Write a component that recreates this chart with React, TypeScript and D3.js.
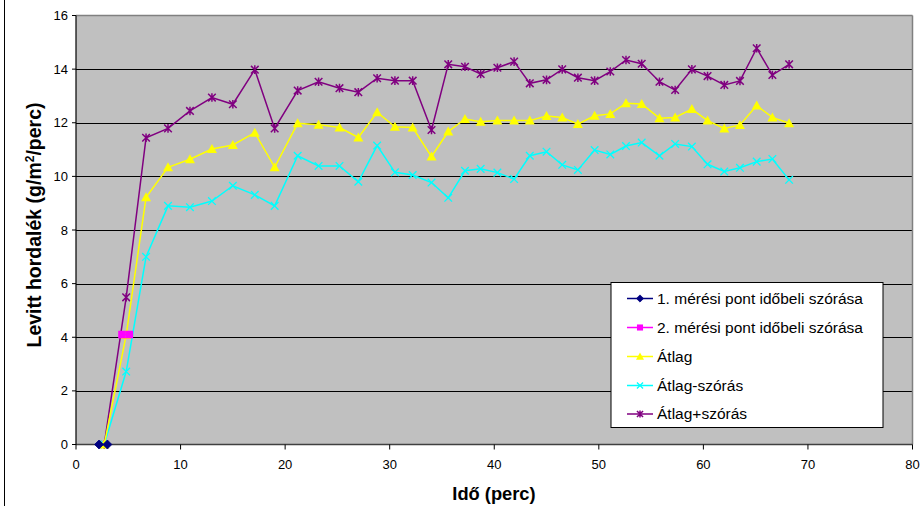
import React from "react";
import * as d3 from "d3";

const xMain = [2.7, 4.8, 6.7, 8.8, 10.9, 13.0, 15.0, 17.1, 19.0, 21.2, 23.2, 25.2, 27.0, 28.8, 30.5, 32.2, 34.0, 35.6, 37.2, 38.7, 40.3, 41.9, 43.4, 45.0, 46.5, 48.0, 49.6, 51.1, 52.6, 54.1, 55.8, 57.3, 58.9, 60.4, 62.0, 63.5, 65.1, 66.6, 68.2];
const atlag = [0, 4.08, 9.22, 10.34, 10.64, 11.02, 11.17, 11.63, 10.34, 11.98, 11.93, 11.82, 11.45, 12.39, 11.85, 11.82, 10.74, 11.67, 12.14, 12.04, 12.08, 12.08, 12.08, 12.25, 12.2, 11.95, 12.26, 12.33, 12.73, 12.7, 12.17, 12.2, 12.51, 12.08, 11.79, 11.92, 12.64, 12.2, 11.98];
const atlagMinus = [0, 2.72, 7.0, 8.9, 8.85, 9.08, 9.65, 9.31, 8.9, 10.77, 10.39, 10.39, 9.8, 11.15, 10.15, 10.05, 9.77, 9.2, 10.21, 10.28, 10.14, 9.9, 10.77, 10.92, 10.43, 10.24, 10.98, 10.82, 11.13, 11.26, 10.77, 11.21, 11.11, 10.45, 10.18, 10.32, 10.55, 10.65, 9.87];
const atlagPlus = [0, 5.49, 11.44, 11.79, 12.44, 12.94, 12.69, 13.98, 11.79, 13.2, 13.53, 13.29, 13.14, 13.66, 13.57, 13.57, 11.73, 14.18, 14.09, 13.82, 14.05, 14.28, 13.47, 13.6, 13.99, 13.68, 13.57, 13.91, 14.34, 14.2, 13.53, 13.22, 13.99, 13.74, 13.41, 13.56, 14.78, 13.78, 14.18];
const pont1X = [2.2, 3.0];
const pont1Y = [0, 0];
const pont2X = [4.4, 5.1];
const pont2Y = [4.1, 4.1];

const xTicks = [0, 10, 20, 30, 40, 50, 60, 70, 80];
const yTicks = [0, 2, 4, 6, 8, 10, 12, 14, 16];
const legendLabels = [
  "1. mérési pont időbeli szórása",
  "2. mérési pont időbeli szórása",
  "Átlag",
  "Átlag-szórás",
  "Átlag+szórás",
];

type Series = { xs: number[]; ys: number[]; color: string; marker: string; label: string };

const series: Series[] = [
  { xs: xMain, ys: atlagPlus, color: "#800080", marker: "star", label: legendLabels[4] },
  { xs: xMain, ys: atlagMinus, color: "#00FFFF", marker: "x", label: legendLabels[3] },
  { xs: xMain, ys: atlag, color: "#FFFF00", marker: "triangle", label: legendLabels[2] },
  { xs: pont2X, ys: pont2Y, color: "#FF00FF", marker: "square", label: legendLabels[1] },
  { xs: pont1X, ys: pont1Y, color: "#000080", marker: "diamond", label: legendLabels[0] },
];

const legendOrder = [4, 3, 2, 1, 0];

function Marker({ type, x, y, color, small }: { type: string; x: number; y: number; color: string; small?: boolean }) {
  const k = small ? 0.8 : 1;
  const s = 3.8 * k;
  if (type === "diamond") {
    const r = 4.5 * k;
    return <path d={`M${x},${y - r}L${x + r},${y}L${x},${y + r}L${x - r},${y}Z`} fill={color} stroke={color} strokeWidth={0.8} strokeLinejoin="round" />;
  }
  if (type === "square") {
    return <rect x={x - s} y={y - s} width={2 * s} height={2 * s} fill={color} />;
  }
  if (type === "triangle") {
    const r = 5 * k;
    return <path d={`M${x},${y - r}L${x + r},${y + r * 0.8}L${x - r},${y + r * 0.8}Z`} fill={color} />;
  }
  if (type === "x") {
    return (
      <path d={`M${x - s},${y - s}L${x + s},${y + s}M${x - s},${y + s}L${x + s},${y - s}`} stroke={color} strokeWidth={1.3} />
    );
  }
  return (
    <path
      d={`M${x - s},${y - s}L${x + s},${y + s}M${x - s},${y + s}L${x + s},${y - s}M${x},${y - s - 0.5}L${x},${y + s + 0.5}`}
      stroke={color}
      strokeWidth={1.5}
    />
  );
}

export default function App() {
  const W = 922;
  const H = 506;
  const left = 76;
  const right = 912.5;
  const top = 15.5;
  const bottom = 444.5;
  const x = d3.scaleLinear().domain([0, 80]).range([left, right]);
  const y = d3.scaleLinear().domain([0, 16]).range([bottom, top]);
  const font = "Arial, 'Liberation Sans', sans-serif";

  const line = (xs: number[], ys: number[]) =>
    d3.line<number>().x((_, i) => x(xs[i])).y((d) => y(d))(ys) || "";

  const legX = 611;
  const legY = 282.5;
  const legW = 272;
  const legH = 145;
  const rowY = [298.5, 327.5, 356.5, 385.5, 414];

  return (
    <svg width={W} height={H} style={{ position: "absolute", left: 0, top: 0, background: "#fff" }}>
      <rect x={0} y={0} width={W} height={H} fill="#fff" />
      <line x1={4.5} y1={0} x2={4.5} y2={H} stroke="#000" strokeWidth={1} />
      <rect x={left} y={top} width={right - left} height={bottom - top} fill="#C0C0C0" />
      {yTicks.slice(1, -1).map((t) => (
        <line key={t} x1={left} x2={right} y1={Math.round(y(t)) + 0.5} y2={Math.round(y(t)) + 0.5} stroke="#000" strokeWidth={1} />
      ))}
      <line x1={left} x2={right} y1={top} y2={top} stroke="#808080" strokeWidth={1.5} />
      <line x1={right} x2={right} y1={top} y2={bottom} stroke="#808080" strokeWidth={1.5} />
      <line x1={left} x2={right} y1={bottom} y2={bottom} stroke="#404040" strokeWidth={1.5} />
      <line x1={left} x2={left} y1={top} y2={bottom} stroke="#000" strokeWidth={1.2} />
      {yTicks.map((t) => (
        <g key={t}>
          <line x1={left - 4} x2={left} y1={y(t)} y2={y(t)} stroke="#000" />
          <text x={68} y={y(t)} dy="0.35em" textAnchor="end" fontSize={13} fontFamily={font} fill="#000">
            {t}
          </text>
        </g>
      ))}
      {xTicks.map((t) => (
        <g key={t}>
          <line x1={x(t)} x2={x(t)} y1={bottom} y2={bottom + 5} stroke="#000" />
          <text x={x(t)} y={464} dy="0.35em" textAnchor="middle" fontSize={13} fontFamily={font} fill="#000">
            {t}
          </text>
        </g>
      ))}
      <text x={494} y={494} dy="0.35em" textAnchor="middle" fontSize={18.3} fontWeight="bold" fontFamily={font} fill="#000">
        Idő (perc)
      </text>
      <text
        transform={`translate(34,225) rotate(-90)`}
        textAnchor="middle"
        dy="0.35em"
        fontSize={19.5}
        fontWeight="bold"
        fontFamily={font}
        fill="#000"
      >
        Levitt hordalék (g/m
        <tspan dy="-7" fontSize={12}>2</tspan>
        <tspan dy="7">/perc)</tspan>
      </text>
      {series.map((s, si) => (
        <g key={si}>
          <path d={line(s.xs, s.ys)} fill="none" stroke={s.color} strokeWidth={1.5} />
          {s.ys.map((v, i) => (
            <Marker key={i} type={s.marker} x={x(s.xs[i])} y={y(v)} color={s.color} />
          ))}
        </g>
      ))}
      <rect x={legX} y={legY} width={legW} height={legH} fill="#fff" stroke="#000" strokeWidth={1} />
      {legendOrder.map((si, r) => {
        const s = series[si];
        return (
          <g key={r}>
            <line x1={627} x2={653} y1={rowY[r]} y2={rowY[r]} stroke={s.color} strokeWidth={1.5} />
            <Marker type={s.marker} x={640} y={rowY[r]} color={s.color} small />
            <text x={657} y={rowY[r]} dy="0.35em" fontSize={15.5} fontFamily={font} fill="#000" textLength={legendLabels[si].length > 10 ? undefined : undefined}>
              {s.label}
            </text>
          </g>
        );
      })}
    </svg>
  );
}
